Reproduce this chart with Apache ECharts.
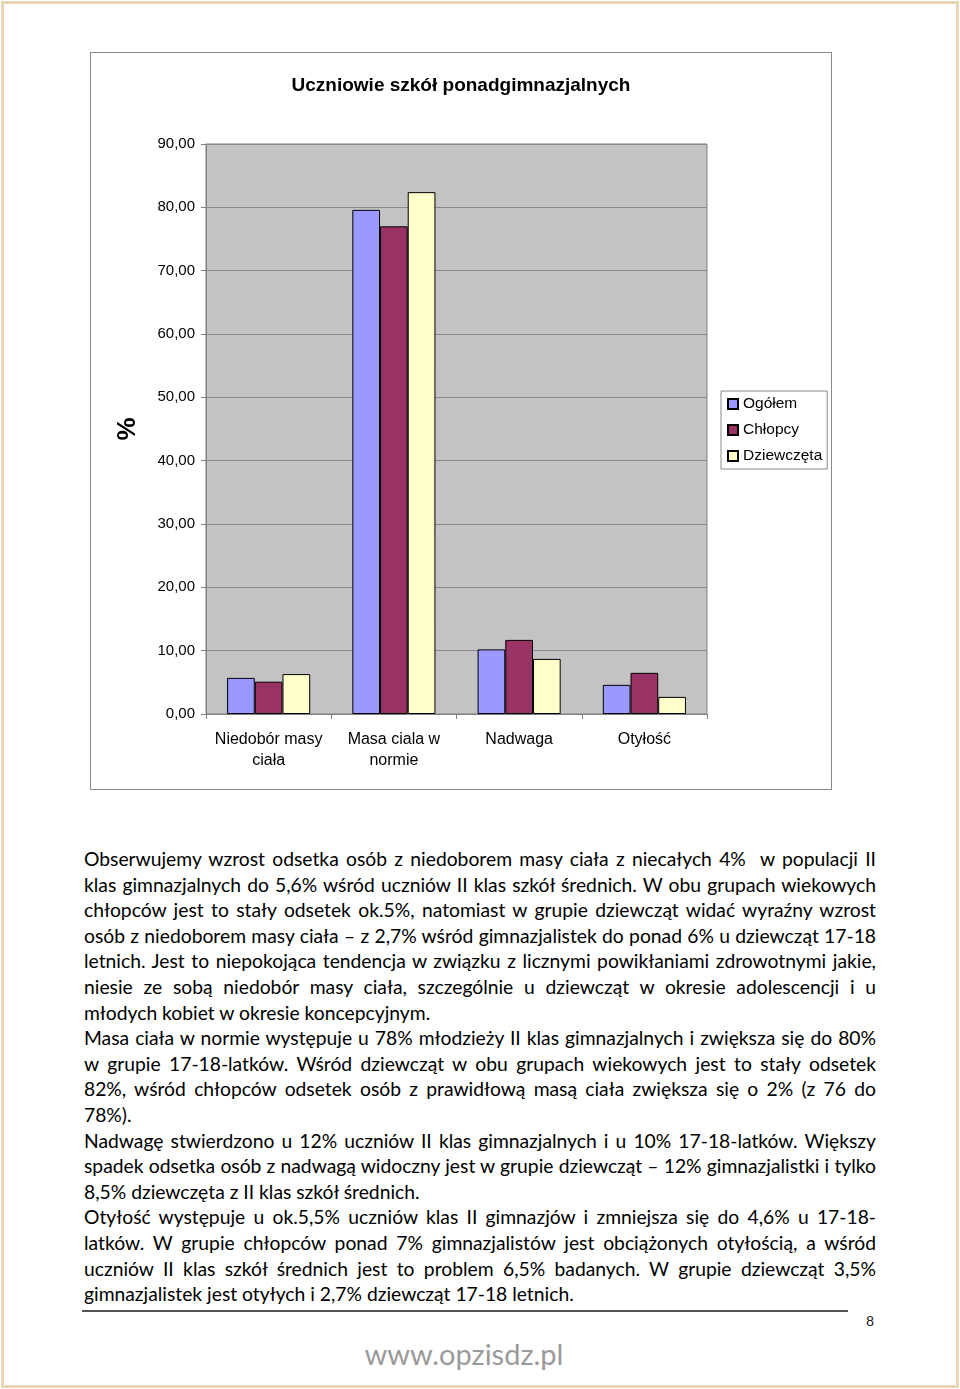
<!DOCTYPE html>
<html>
<head>
<meta charset="utf-8">
<script src="https://cdn.jsdelivr.net/npm/echarts@6/dist/echarts.min.js"></script>
<style>
  html, body { margin: 0; padding: 0; background: #fff; }
  body { width: 960px; height: 1389px; position: relative; overflow: hidden; }
  #frame { position: absolute; left: 1px; top: 1px; width: 952px; height: 1381px; border: 3px solid #e6d6b4; }
  #chart { position: absolute; left: 90px; top: 52px; width: 740px; height: 736px; border: 1px solid #8a8a8a; background: #fff; }
  #text { position: absolute; left: 84px; top: 846px; width: 792px; font-family: Lato, "Open Sans", sans-serif; font-size: 19.3px; line-height: 25.6px; color: #000; }
  #text div { white-space: nowrap; height: 25.6px; }
  #text .j { text-align: justify; text-align-last: justify; }
  #rule { position: absolute; left: 82px; top: 1310px; width: 766px; height: 0; border-top: 2px solid #555; }
  #pg { position: absolute; left: 866px; top: 1312px; font-family: Lato, sans-serif; font-size: 14px; color: #222; }
  #www { position: absolute; left: 0; width: 928px; top: 1336px; text-align: center; font-family: Lato, sans-serif; font-size: 29px; color: #9a9a9a; }
</style>
</head>
<body>
<div id="frame"></div>
<div id="chart"></div>
<div id="text">
  <div class="j">Obserwujemy wzrost odsetka osób z niedoborem masy ciała z niecałych 4%&nbsp; w populacji II</div>
  <div class="j">klas gimnazjalnych do 5,6% wśród uczniów II klas szkół średnich. W obu grupach wiekowych</div>
  <div class="j">chłopców jest to stały odsetek ok.5%, natomiast w grupie dziewcząt widać wyraźny wzrost</div>
  <div class="j">osób z niedoborem masy ciała – z 2,7% wśród gimnazjalistek do ponad 6% u dziewcząt 17-18</div>
  <div class="j">letnich. Jest to niepokojąca tendencja w związku z licznymi powikłaniami zdrowotnymi jakie,</div>
  <div class="j">niesie ze sobą niedobór masy ciała, szczególnie u dziewcząt w okresie adolescencji i u</div>
  <div>młodych kobiet w okresie koncepcyjnym.</div>
  <div class="j">Masa ciała w normie występuje u 78% młodzieży II klas gimnazjalnych i zwiększa się do 80%</div>
  <div class="j">w grupie 17-18-latków. Wśród dziewcząt w obu grupach wiekowych jest to stały odsetek</div>
  <div class="j">82%, wśród chłopców odsetek osób z prawidłową masą ciała zwiększa się o 2% (z 76 do</div>
  <div>78%).</div>
  <div class="j">Nadwagę stwierdzono u 12% uczniów II klas gimnazjalnych i u 10% 17-18-latków. Większy</div>
  <div class="j">spadek odsetka osób z nadwagą widoczny jest w grupie dziewcząt – 12% gimnazjalistki i tylko</div>
  <div>8,5% dziewczęta z II klas szkół średnich.</div>
  <div class="j">Otyłość występuje u ok.5,5% uczniów klas II gimnazjów i zmniejsza się do 4,6% u 17-18-</div>
  <div class="j">latków. W grupie chłopców ponad 7% gimnazjalistów jest obciążonych otyłością, a wśród</div>
  <div class="j">uczniów II klas szkół średnich jest to problem 6,5% badanych. W grupie dziewcząt 3,5%</div>
  <div>gimnazjalistek jest otyłych i 2,7% dziewcząt 17-18 letnich.</div>
</div>
<div id="rule"></div>
<div id="pg">8</div>
<div id="www">www.opzisdz.pl</div>
<script>
var chartTitle = 'Uczniowie szkół ponadgimnazjalnych';
var categories = ['Niedobór masy\nciała', 'Masa ciala w\nnormie', 'Nadwaga', 'Otyłość'];
var seriesNames = ['Ogółem', 'Chłopcy', 'Dziewczęta'];
var ogolem = [5.7, 79.6, 10.2, 4.6];
var chlopcy = [5.1, 77.0, 11.7, 6.5];
var dziewczeta = [6.3, 82.4, 8.7, 2.7];
var colors = ['#9999ff', '#993366', '#ffffcc'];

var chart = echarts.init(document.getElementById('chart'), null, { renderer: 'canvas' });
var font = '"Liberation Sans", Arial, sans-serif';
function mk(name, data, color) {
  return {
    name: name, type: 'bar', data: data, barWidth: 27.7, barGap: '0%',
    itemStyle: { color: color, borderColor: '#000', borderWidth: 1 },
    emphasis: { disabled: true }
  };
}
chart.setOption({
  animation: false,
  textStyle: { fontFamily: font },
  title: {
    text: chartTitle, left: 'center', top: 18,
    textStyle: { fontFamily: font, fontSize: 19, fontWeight: 'bold', color: '#000' }
  },
  legend: {
    orient: 'vertical', left: 630, top: 338,
    padding: [5, 5, 5, 6], itemWidth: 10, itemHeight: 10, itemGap: 10,
    borderColor: '#8a8a8a', borderWidth: 1, backgroundColor: '#fff',
    icon: 'rect',
    textStyle: { fontFamily: font, fontSize: 15.5, color: '#000', lineHeight: 16 },
    data: seriesNames
  },
  grid: {
    left: 115, top: 91, width: 501, height: 570,
    show: true, backgroundColor: '#c3c3c3', borderColor: '#808080', borderWidth: 1
  },
  xAxis: {
    type: 'category', data: categories,
    axisLine: { show: true, lineStyle: { color: '#808080', width: 1 } },
    axisTick: { show: true, length: 5, lineStyle: { color: '#808080' } },
    axisLabel: { fontFamily: font, fontSize: 16, color: '#000', lineHeight: 21, margin: 15, interval: 0 }
  },
  yAxis: {
    type: 'value', min: 0, max: 90, interval: 10,
    name: '%', nameLocation: 'middle', nameGap: 65, nameRotate: 90, nameMoveOverlap: false,
    nameTextStyle: { fontFamily: font, fontSize: 26, fontWeight: 'bold', color: '#000' },
    axisLine: { show: true, lineStyle: { color: '#808080', width: 1 } },
    axisTick: { show: true, length: 5, lineStyle: { color: '#808080' } },
    axisLabel: {
      fontFamily: font, fontSize: 15, color: '#000', margin: 11,
      formatter: function (v) { return v.toFixed(2).replace('.', ','); }
    },
    splitLine: { show: true, lineStyle: { color: '#8a8a8a', width: 1 } }
  },
  series: [mk(seriesNames[0], ogolem, colors[0]), mk(seriesNames[1], chlopcy, colors[1]), mk(seriesNames[2], dziewczeta, colors[2])]
});
</script>
</body>
</html>
